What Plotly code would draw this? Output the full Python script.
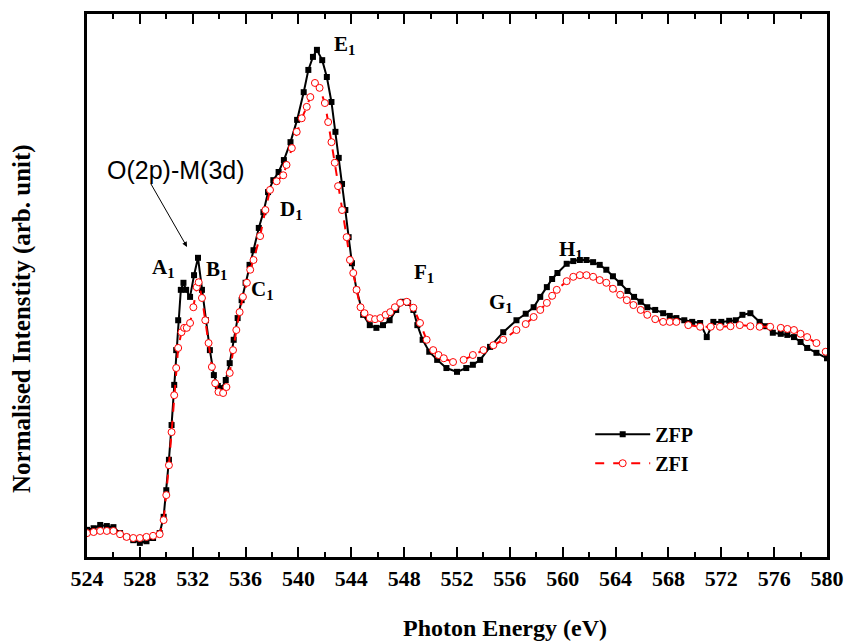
import plotly.graph_objects as go

# ---- data ----
zfp_energy = [524.0, 524.5, 525.0, 525.5, 526.0, 526.5, 527.0, 527.5, 528.0, 528.5, 529.0, 529.5,
              529.8, 530.0, 530.2, 530.4, 530.6, 530.75, 530.9, 531.1, 531.3, 531.5, 531.8, 532.1,
              532.4, 532.7, 533.0, 533.3, 533.6, 533.9, 534.2, 534.5, 534.8, 535.1, 535.4, 535.7,
              536.0, 536.3, 536.6, 537.0, 537.35, 537.7, 538.1, 538.5, 538.9, 539.4, 539.9, 540.4,
              540.75, 541.1, 541.4, 541.8, 542.15, 542.5, 542.8, 543.05, 543.3, 543.55, 543.8, 544.05,
              544.4, 544.9, 545.4, 545.9, 546.4, 546.9, 547.4, 547.9, 548.3, 548.7, 549.0, 549.4,
              549.9, 550.5, 551.2, 552.0, 552.7, 553.2, 553.75, 554.5, 555.5, 556.5, 557.2, 557.8,
              558.3, 558.8, 559.2, 559.6, 560.3, 560.8, 561.3, 561.8, 562.3, 562.8, 563.3, 563.8,
              564.35, 564.9, 565.4, 565.9, 566.4, 567.0, 567.6, 568.1, 568.6, 569.2, 569.8, 570.4,
              570.9, 571.4, 572.0, 572.6, 573.1, 573.6, 574.2, 574.9, 575.4, 575.9, 576.5, 577.0,
              577.5, 578.0, 578.5, 579.2, 580.0]
zfp_intensity = [0.050, 0.053, 0.059, 0.057, 0.055, 0.044, 0.037, 0.031, 0.026, 0.029, 0.035, 0.044,
                 0.074, 0.123, 0.179, 0.243, 0.317, 0.381, 0.436, 0.492, 0.505, 0.492, 0.479, 0.519,
                 0.551, 0.492, 0.436, 0.381, 0.335, 0.315, 0.311, 0.326, 0.357, 0.400, 0.440, 0.473,
                 0.505, 0.538, 0.565, 0.606, 0.635, 0.672, 0.694, 0.709, 0.731, 0.764, 0.805, 0.856,
                 0.897, 0.921, 0.934, 0.915, 0.884, 0.838, 0.783, 0.735, 0.687, 0.639, 0.589, 0.541,
                 0.492, 0.446, 0.427, 0.422, 0.427, 0.436, 0.455, 0.470, 0.468, 0.455, 0.427, 0.400,
                 0.378, 0.363, 0.348, 0.341, 0.348, 0.354, 0.363, 0.387, 0.414, 0.436, 0.448, 0.460,
                 0.479, 0.497, 0.512, 0.523, 0.540, 0.545, 0.547, 0.547, 0.543, 0.538, 0.529, 0.517,
                 0.505, 0.490, 0.479, 0.470, 0.460, 0.455, 0.449, 0.444, 0.440, 0.436, 0.433, 0.431,
                 0.405, 0.433, 0.433, 0.435, 0.436, 0.446, 0.449, 0.433, 0.425, 0.413, 0.411, 0.409,
                 0.405, 0.396, 0.385, 0.376, 0.366]

zfi_energy = [524.0, 524.5, 525.0, 525.5, 526.0, 526.5, 527.0, 527.5, 528.0, 528.5, 529.0, 529.5,
              529.8, 530.0, 530.2, 530.4, 530.6, 530.75, 530.9, 531.15, 531.35, 531.55, 531.8, 532.05,
              532.3, 532.45, 532.7, 532.95, 533.2, 533.45, 533.7, 533.95, 534.3, 534.55, 534.8, 535.05,
              535.3, 535.55, 535.8, 536.1, 536.35, 536.6, 537.1, 537.5, 537.85, 538.35, 538.85, 539.1,
              539.5, 539.87, 540.25, 540.63, 540.9, 541.25, 541.6, 542.0, 542.25, 542.5, 542.75, 543.0,
              543.3, 543.65, 543.9, 544.15, 544.4, 544.7, 545.0, 545.4, 545.8, 546.2, 546.6, 546.95,
              547.3, 547.7, 548.2, 548.7, 549.2, 549.7, 550.2, 550.6, 551.0, 551.7, 552.5, 553.2,
              554.0, 554.75, 555.5, 556.5, 557.2, 557.8, 558.3, 558.8, 559.2, 559.55, 560.3, 560.8,
              561.3, 561.8, 562.3, 562.8, 563.3, 563.8, 564.35, 564.85, 565.35, 565.9, 566.4, 567.0,
              567.6, 568.1, 568.6, 569.5, 570.4, 571.2, 571.9, 572.7, 573.4, 574.2, 574.9, 575.7,
              576.5, 577.0, 577.5, 578.0, 578.5, 579.2, 579.9]
zfi_intensity = [0.044, 0.046, 0.048, 0.048, 0.048, 0.042, 0.037, 0.035, 0.035, 0.037, 0.039, 0.042,
                 0.068, 0.114, 0.169, 0.230, 0.298, 0.348, 0.385, 0.414, 0.422, 0.422, 0.431, 0.460,
                 0.497, 0.506, 0.477, 0.436, 0.394, 0.350, 0.320, 0.304, 0.302, 0.313, 0.339, 0.381,
                 0.418, 0.451, 0.479, 0.505, 0.529, 0.547, 0.591, 0.639, 0.676, 0.692, 0.703, 0.722,
                 0.753, 0.783, 0.808, 0.829, 0.847, 0.873, 0.864, 0.836, 0.801, 0.764, 0.726, 0.683,
                 0.639, 0.589, 0.547, 0.523, 0.492, 0.460, 0.449, 0.440, 0.438, 0.440, 0.446, 0.451,
                 0.460, 0.468, 0.470, 0.459, 0.431, 0.400, 0.381, 0.372, 0.366, 0.359, 0.363, 0.372,
                 0.381, 0.390, 0.400, 0.418, 0.429, 0.442, 0.455, 0.468, 0.481, 0.492, 0.508, 0.516,
                 0.519, 0.519, 0.516, 0.510, 0.505, 0.494, 0.483, 0.473, 0.464, 0.455, 0.446, 0.438,
                 0.433, 0.433, 0.433, 0.427, 0.424, 0.424, 0.424, 0.425, 0.427, 0.425, 0.424, 0.424,
                 0.422, 0.420, 0.418, 0.411, 0.405, 0.394, 0.378]

peak_labels = ["A", "B", "C", "D", "E", "F", "G", "H"]
peak_energy = [529.8, 533.8, 537.3, 539.5, 543.45, 549.5, 555.3, 560.6]
peak_level = [0.532, 0.529, 0.492, 0.639, 0.943, 0.523, 0.468, 0.566]

x_ticks = list(range(524, 581, 4))

fig = go.Figure()
fig.add_trace(go.Scatter(
    x=zfp_energy, y=zfp_intensity, name="ZFP", mode="lines+markers",
    line=dict(color="black", width=2),
    marker=dict(symbol="square", size=6, color="black"),
))
fig.add_trace(go.Scatter(
    x=zfi_energy, y=zfi_intensity, name="ZFI", mode="lines+markers",
    line=dict(color="red", width=2, dash="dash"),
    marker=dict(symbol="circle", size=7, color="white", line=dict(color="red", width=1)),
))

serif = "Times New Roman, Liberation Serif, serif"
for lab, ex, ey in zip(peak_labels, peak_energy, peak_level):
    fig.add_annotation(x=ex, y=ey, xref="x", yref="y", text=f"<b>{lab}<sub>1</sub></b>",
                       showarrow=False, font=dict(family=serif, size=21, color="black"))

fig.add_annotation(x=531.57, y=0.571, ax=528.77, ay=0.690, xref="x", yref="y", axref="x", ayref="y",
                   text="", showarrow=True, arrowhead=2, arrowsize=1, arrowwidth=1, arrowcolor="black")
fig.add_annotation(x=530.7, y=0.713, xref="x", yref="y", text="O(2p)-M(3d)", showarrow=False,
                   font=dict(family="Arial, Liberation Sans, sans-serif", size=25, color="black"))

fig.add_annotation(x=0.565, y=-0.13, xref="paper", yref="paper", text="<b>Photon Energy (eV)</b>",
                   showarrow=False, yanchor="middle",
                   font=dict(family=serif, size=24, color="black"))
fig.add_annotation(x=-0.088, y=0.44, xref="paper", yref="paper",
                   text="<b>Normalised Intenstity (arb. unit)</b>", textangle=-90,
                   showarrow=False, xanchor="center", yanchor="middle",
                   font=dict(family=serif, size=25, color="black"))

fig.update_xaxes(
    range=[524, 580], tickvals=x_ticks, ticktext=[f"<b>{v}</b>" for v in x_ticks],
    ticks="inside", ticklen=10, tickwidth=2, tickcolor="black",
    minor=dict(dtick=2, tick0=524, ticks="inside", ticklen=5, tickwidth=2, tickcolor="black"),
    showline=True, linecolor="black", linewidth=2.5, mirror="allticks",
    showgrid=False, zeroline=False, automargin=False,
    tickfont=dict(family=serif, size=22, color="black"),
)
fig.update_yaxes(
    range=[0, 1], showticklabels=False, ticks="",
    showline=True, linecolor="black", linewidth=2.5, mirror=True,
    showgrid=False, zeroline=False, automargin=False,
)
fig.update_layout(
    width=847, height=644,
    margin=dict(l=87, r=20, t=14, b=87, autoexpand=False),
    paper_bgcolor="white", plot_bgcolor="white",
    showlegend=True,
    legend=dict(x=0.68, y=0.262, xanchor="left", yanchor="top", bgcolor="rgba(0,0,0,0)",
                itemwidth=55, tracegroupgap=4,
                font=dict(family=serif, size=20, color="black", weight="bold")),
)
fig.write_html("out.html")
